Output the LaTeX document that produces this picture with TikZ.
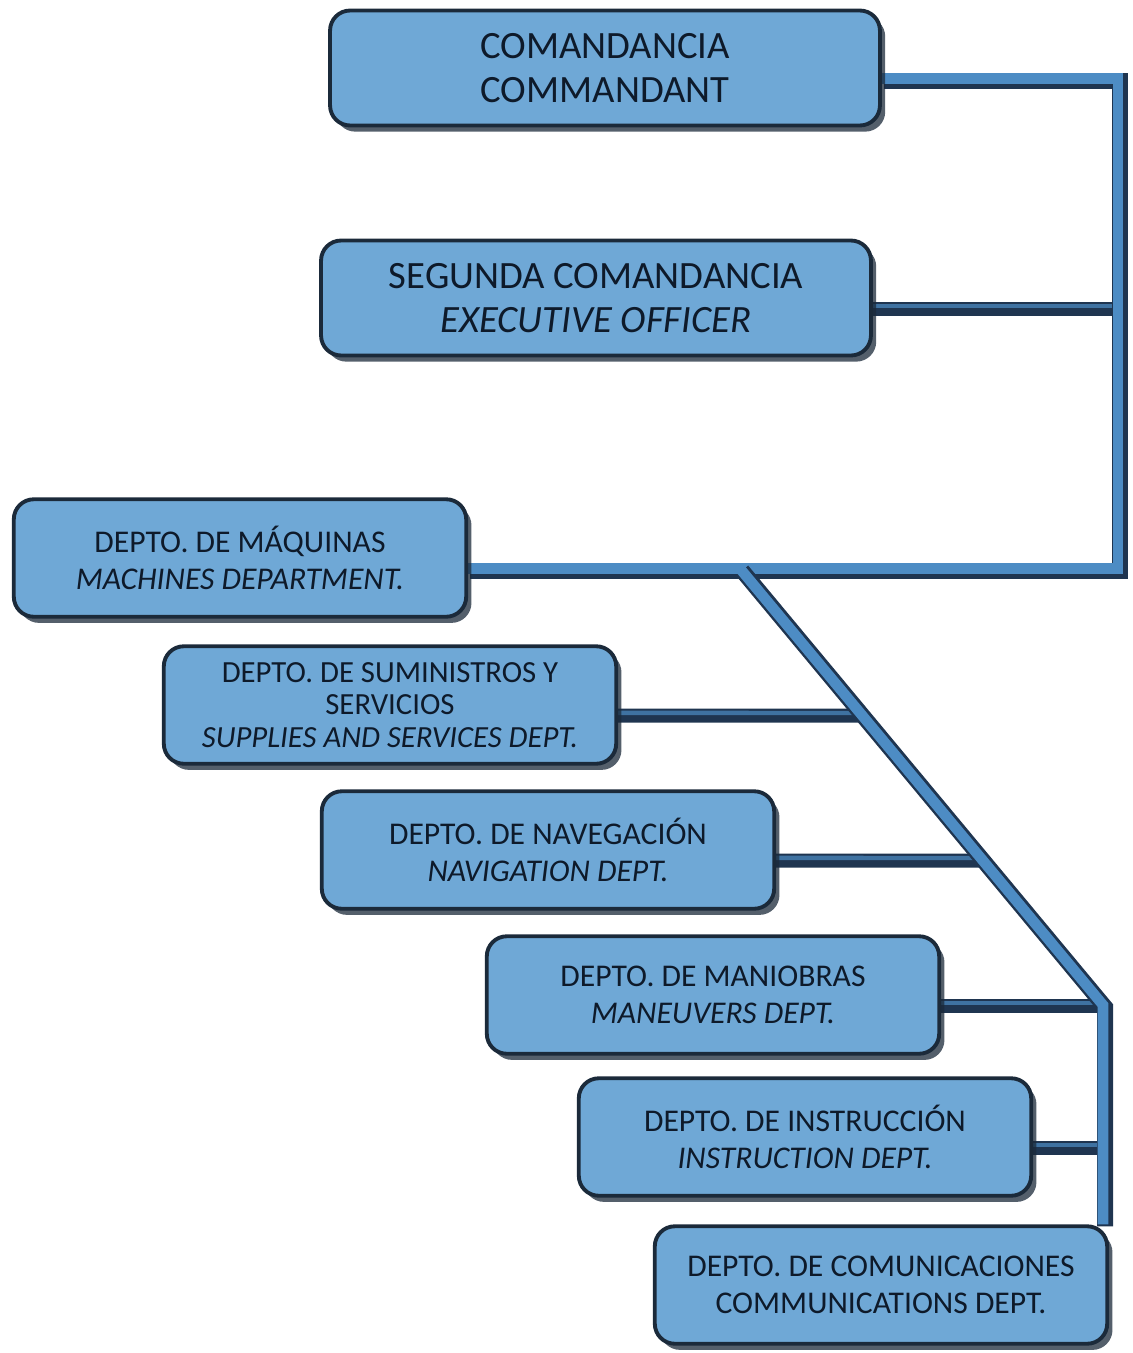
\documentclass[tikz,border=0pt]{standalone}
\usepackage{fontspec}
\setmainfont{Carlito}
\usetikzlibrary{shadows,backgrounds}
\definecolor{boxblue}{HTML}{6FA8D6}
\definecolor{boxedge}{HTML}{1B2A3A}
\definecolor{barblue}{HTML}{4D8CC4}
\definecolor{bardark}{HTML}{1F3550}
\definecolor{inkblue}{HTML}{0E1A2A}
\tikzset{
  orgbox/.style={rectangle, rounded corners=0.4cm, fill=boxblue, draw=boxedge,
    line width=2.2pt, text=inkblue, align=center,
    drop shadow={shadow xshift=3pt, shadow yshift=-3.5pt, opacity=0.75, fill=boxedge}},
  topbox/.style={orgbox, minimum width=11cm, minimum height=2.3cm,
    font=\fontsize{22}{25}\selectfont},
  deptbox/.style={orgbox, minimum width=9.05cm, minimum height=2.35cm,
    font=\fontsize{18}{21}\selectfont},
  trunk/.style={draw=barblue, line width=6pt,
    preaction={draw=bardark, line width=9pt, transform canvas={shift={(1.2pt,-1.2pt)}}}},
  branch/.style={draw=bardark, line width=8pt,
    postaction={draw=barblue!70!bardark, line width=2.5pt, transform canvas={shift={(0pt,1.5pt)}}}}
}
\begin{document}
\begin{tikzpicture}[x=0.02cm, y=-0.02cm]
  \useasboundingbox (0,0) rectangle (1133,1353);

  % boxes
  \node[topbox] (cmd) at (605,68) {COMANDANCIA\\COMMANDANT};
  \node[topbox] (exec) at (596,298) {SEGUNDA COMANDANCIA\\\textit{EXECUTIVE OFFICER}};
  \node[deptbox] (maq) at (240,558) {DEPTO. DE MÁQUINAS\\\textit{MACHINES DEPARTMENT.}};
  \node[deptbox, font=\fontsize{17.5}{18.5}\selectfont] (sum) at (390,705) {DEPTO. DE SUMINISTROS Y\\SERVICIOS\\\textit{SUPPLIES AND SERVICES DEPT.}};
  \node[deptbox] (nav) at (548,850) {DEPTO. DE NAVEGACIÓN\\\textit{NAVIGATION DEPT.}};
  \node[deptbox] (man) at (713,995) {DEPTO. DE MANIOBRAS\\\textit{MANEUVERS DEPT.}};
  \node[deptbox] (ins) at (805,1137) {DEPTO. DE INSTRUCCIÓN\\\textit{INSTRUCTION DEPT.}};
  \node[deptbox] (com) at (881,1285) {DEPTO. DE COMUNICACIONES\\COMMUNICATIONS DEPT.};

  % connectors
  \foreach \n in {cmd,exec,maq,sum,nav,man,ins}
    \coordinate (r\n) at ([yshift=-6pt]\n.east);
  \coordinate (rtop) at (1118,0);
  \coordinate (dx) at (740,0);
  \coordinate (dtop) at (rmaq -| dx);
  \coordinate (dbend) at (1103,1005);
  \begin{scope}[on background layer]
    \draw[branch] (rexec) -- (rexec -| rtop);
    \foreach \n in {sum,nav} {
      \coordinate (x\n) at ([xshift=10cm]r\n);
      \draw[branch] (r\n) -- (intersection of dtop--dbend and r\n--x\n);
    }
    \foreach \n in {man,ins}
      \draw[branch] (r\n) -- (r\n -| dbend);
    \draw[trunk] (rcmd) -| (rmaq -| rtop) -- (rmaq);
    \draw[trunk] (dtop) -- (dbend) -- (dbend |- com.north);
  \end{scope}
\end{tikzpicture}
\end{document}
